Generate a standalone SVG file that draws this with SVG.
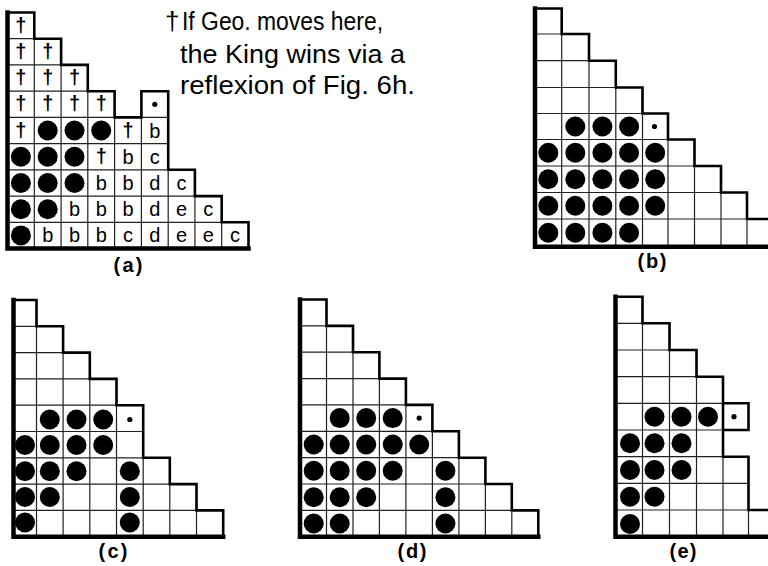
<svg xmlns="http://www.w3.org/2000/svg" width="768" height="566" viewBox="0 0 768 566">
<style>
.out{fill:none;stroke:#000;stroke-width:2.6;stroke-linecap:square;stroke-linejoin:miter}
.base{fill:none;stroke:#000;stroke-width:4.5;stroke-linecap:square}
.grid{fill:none;stroke:#222;stroke-width:1.2}
.dot{fill:#000}
.t{font-family:"Liberation Sans",Arial,sans-serif;font-size:20px;text-anchor:middle;fill:#000}
.dg{font-family:"Liberation Sans",Arial,sans-serif;font-size:20px;font-weight:bold;text-anchor:middle;fill:#000}
.lab{font-family:"Liberation Sans",Arial,sans-serif;font-size:20px;font-weight:bold;text-anchor:middle;fill:#000}
.note{font-family:"Liberation Sans",Arial,sans-serif;font-size:26px;fill:#000}
</style>
<rect width="768" height="566" fill="#fff"/>

<g id="panel-a">
<path class="grid" d="M7.5,38.7 H61.1 M7.5,64.9 H87.8 M7.5,91.2 H114.6 M7.5,117.4 H168.2 M7.5,143.6 H168.2 M7.5,169.8 H194.9 M7.5,196.1 H221.7 M7.5,222.3 H248.5 M34.3,12.5 V248.5 M61.1,38.7 V248.5 M87.8,64.9 V248.5 M114.6,91.2 V248.5 M141.4,91.2 V248.5 M168.2,169.8 V248.5 M194.9,169.8 V248.5 M221.7,196.1 V248.5"/>
<path class="out" d="M7.5,248.5 V12.5 H34.3 V38.7 H61.1 V64.9 H87.8 V91.2 H114.6 V117.4 H141.4 V91.2 H168.2 V169.8 H194.9 V196.1 H221.7 V222.3 H248.5 V248.5"/>
<path class="base" d="M7.5,12.5 V248.5 H248.5"/>
<g class="dot">
<circle cx="47.7" cy="130.5" r="10"/><circle cx="74.5" cy="130.5" r="10"/><circle cx="101.2" cy="130.5" r="10"/>
<circle cx="20.9" cy="156.7" r="10"/><circle cx="47.7" cy="156.7" r="10"/><circle cx="74.5" cy="156.7" r="10"/>
<circle cx="20.9" cy="183" r="10"/><circle cx="47.7" cy="183" r="10"/><circle cx="74.5" cy="183" r="10"/>
<circle cx="20.9" cy="209.2" r="10"/><circle cx="47.7" cy="209.2" r="10"/>
<circle cx="20.9" cy="235.4" r="10"/>
<circle cx="154.8" cy="104.3" r="2.6"/>
</g>
<g class="dg">
<text x="20.9" y="31.6">†</text>
<text x="20.9" y="57.8">†</text><text x="47.7" y="57.8">†</text>
<text x="20.9" y="84.1">†</text><text x="47.7" y="84.1">†</text><text x="74.5" y="84.1">†</text>
<text x="20.9" y="110.3">†</text><text x="47.7" y="110.3">†</text><text x="74.5" y="110.3">†</text><text x="101.2" y="110.3">†</text>
<text x="20.9" y="136.5">†</text><text x="128" y="136.5">†</text>
<text x="101.2" y="162.7">†</text>
</g>
<g class="t">
<text x="154.8" y="137.5">b</text>
<text x="128" y="163.7">b</text><text x="154.8" y="163.7">c</text>
<text x="101.2" y="190">b</text><text x="128" y="190">b</text><text x="154.8" y="190">d</text><text x="181.6" y="190">c</text>
<text x="74.5" y="216.2">b</text><text x="101.2" y="216.2">b</text><text x="128" y="216.2">b</text><text x="154.8" y="216.2">d</text><text x="181.6" y="216.2">e</text><text x="208.3" y="216.2">c</text>
<text x="47.7" y="242.4">b</text><text x="74.5" y="242.4">b</text><text x="101.2" y="242.4">b</text><text x="128" y="242.4">c</text><text x="154.8" y="242.4">d</text><text x="181.6" y="242.4">e</text><text x="208.3" y="242.4">e</text><text x="235.1" y="242.4">c</text>
</g>
<text class="lab" x="128" y="272" textLength="29" lengthAdjust="spacing">(a)</text>
</g>

<g id="note">
<text class="note" x="165" y="30">†</text>
<text class="note" x="182" y="30" textLength="201" lengthAdjust="spacingAndGlyphs">If Geo. moves here,</text>
<text class="note" x="180" y="62.5" textLength="225" lengthAdjust="spacingAndGlyphs">the King wins via a</text>
<text class="note" x="180" y="94" textLength="235" lengthAdjust="spacingAndGlyphs">reflexion of Fig. 6h.</text>
</g>

<g id="panel-b">
<path class="grid" d="M535,34 H589 M535,60.7 H615.8 M535,87.5 H642.5 M535,113.5 H668 M535,139.5 H694.5 M535,166 H721 M535,192.5 H747 M535,219 H773.5 M561.7,8.5 V246.7 M589,34 V246.7 M615.8,60.7 V246.7 M642.5,87.5 V246.7 M668,113.5 V246.7 M694.5,139.5 V246.7 M721,166 V246.7 M747,192.5 V246.7"/>
<path class="out" d="M535,246.7 V8.5 H561.7 V34 H589 V60.7 H615.8 V87.5 H642.5 V113.5 H668 V139.5 H694.5 V166 H721 V192.5 H747 V219 H772"/>
<path class="base" d="M535,8.5 V246.7 H772"/>
<g class="dot">
<circle cx="575.3" cy="126.5" r="10"/><circle cx="602.4" cy="126.5" r="10"/><circle cx="629.1" cy="126.5" r="10"/>
<circle cx="654.5" cy="126.5" r="2.6"/>
<circle cx="548.3" cy="152.7" r="10"/><circle cx="575.3" cy="152.7" r="10"/><circle cx="602.4" cy="152.7" r="10"/><circle cx="629.1" cy="152.7" r="10"/><circle cx="655.2" cy="152.7" r="10"/>
<circle cx="548.3" cy="179.2" r="10"/><circle cx="575.3" cy="179.2" r="10"/><circle cx="602.4" cy="179.2" r="10"/><circle cx="629.1" cy="179.2" r="10"/><circle cx="655.2" cy="179.2" r="10"/>
<circle cx="548.3" cy="205.7" r="10"/><circle cx="575.3" cy="205.7" r="10"/><circle cx="602.4" cy="205.7" r="10"/><circle cx="629.1" cy="205.7" r="10"/><circle cx="655.2" cy="205.7" r="10"/>
<circle cx="548.3" cy="232.8" r="10"/><circle cx="575.3" cy="232.8" r="10"/><circle cx="602.4" cy="232.8" r="10"/><circle cx="629.1" cy="232.8" r="10"/>
</g>
<text class="lab" x="652" y="268" textLength="29" lengthAdjust="spacing">(b)</text>
</g>

<g id="panel-c">
<path class="grid" d="M13.5,326.3 H63.1 M13.5,352.6 H89.8 M13.5,378.9 H116.5 M13.5,405.2 H143.2 M13.5,431.5 H143.2 M13.5,457.8 H169.8 M13.5,484.1 H196.5 M13.5,510.4 H223.2 M36.5,300 V536.7 M63.1,326.3 V536.7 M89.8,352.6 V536.7 M116.5,378.9 V536.7 M143.2,405.2 V536.7 M169.8,457.8 V536.7 M196.5,484.1 V536.7"/>
<path class="out" d="M13.5,536.7 V300 H36.5 V326.3 H63.1 V352.6 H89.8 V378.9 H116.5 V405.2 H143.2 V457.8 H169.8 V484.1 H196.5 V510.4 H223.2 V536.7"/>
<path class="base" d="M13.5,300 V536.7 H223.2"/>
<g class="dot">
<circle cx="49.8" cy="419.5" r="10"/><circle cx="76.5" cy="419.5" r="10"/><circle cx="103.2" cy="419.5" r="10"/>
<circle cx="129.8" cy="419.5" r="2.6"/>
<circle cx="25" cy="445" r="10"/><circle cx="49.8" cy="445" r="10"/><circle cx="76.5" cy="445" r="10"/><circle cx="103.2" cy="445" r="10"/>
<circle cx="25" cy="471.3" r="10"/><circle cx="49.8" cy="471.3" r="10"/><circle cx="76.5" cy="471.3" r="10"/><circle cx="129.8" cy="471.3" r="10"/>
<circle cx="25" cy="497" r="10"/><circle cx="49.8" cy="497" r="10"/><circle cx="129.8" cy="497" r="10"/>
<circle cx="25" cy="522.5" r="10"/><circle cx="129.8" cy="522.5" r="10"/>
</g>
<text class="lab" x="113" y="558" textLength="29" lengthAdjust="spacing">(c)</text>
</g>

<g id="panel-d">
<path class="grid" d="M300,325.9 H353 M300,352.2 H379.4 M300,378.6 H405.9 M300,404.9 H432.4 M300,431.3 H458.9 M300,457.7 H485.4 M300,484 H511.8 M300,510.4 H538.3 M326.5,299.5 V536.7 M353,325.9 V536.7 M379.4,352.2 V536.7 M405.9,378.6 V536.7 M432.4,404.9 V536.7 M458.9,431.3 V536.7 M485.4,457.7 V536.7 M511.8,484 V536.7"/>
<path class="out" d="M300,536.7 V299.5 H326.5 V325.9 H353 V352.2 H379.4 V378.6 H405.9 V404.9 H432.4 V431.3 H458.9 V457.7 H485.4 V484 H511.8 V510.4 H538.3 V536.7"/>
<path class="base" d="M300,299.5 V536.7 H538.3"/>
<g class="dot">
<circle cx="339.7" cy="418.1" r="10"/><circle cx="366.2" cy="418.1" r="10"/><circle cx="392.7" cy="418.1" r="10"/>
<circle cx="419.2" cy="418.1" r="2.6"/>
<circle cx="313.7" cy="444.5" r="10"/><circle cx="339.7" cy="444.5" r="10"/><circle cx="366.2" cy="444.5" r="10"/><circle cx="392.7" cy="444.5" r="10"/><circle cx="419.2" cy="444.5" r="10"/>
<circle cx="313.7" cy="470.8" r="10"/><circle cx="339.7" cy="470.8" r="10"/><circle cx="366.2" cy="470.8" r="10"/><circle cx="392.7" cy="470.8" r="10"/><circle cx="445.4" cy="470.8" r="10"/>
<circle cx="313.7" cy="497.2" r="10"/><circle cx="339.7" cy="497.2" r="10"/><circle cx="366.2" cy="497.2" r="10"/><circle cx="445.4" cy="497.2" r="10"/>
<circle cx="313.7" cy="523.5" r="10"/><circle cx="339.7" cy="523.5" r="10"/><circle cx="445.4" cy="523.5" r="10"/>
</g>
<text class="lab" x="412" y="558" textLength="29" lengthAdjust="spacing">(d)</text>
</g>

<g id="panel-e">
<path class="grid" d="M615.5,323.3 H669.5 M615.5,350 H696.5 M615.5,376.7 H723 M615.5,403.3 H723 M615.5,430 H748.5 M615.5,456.7 H748.5 M615.5,483.3 H748.5 M615.5,510 H772 M642.5,296.7 V536.7 M669.5,323.3 V536.7 M696.5,350 V536.7 M723,376.7 V536.7 M748.5,456.7 V536.7"/>
<path class="out" d="M615.5,536.7 V296.7 H642.5 V323.3 H669.5 V350 H696.5 V376.7 H723 V456.7 H748.5 V510 H772 M723,403.3 H748.5 V430 H723"/>
<path class="base" d="M615.5,296.7 V536.7 H772"/>
<g class="dot">
<circle cx="654.5" cy="416.7" r="10"/><circle cx="681.5" cy="416.7" r="10"/><circle cx="708" cy="416.7" r="10"/>
<circle cx="734" cy="416.7" r="2.6"/>
<circle cx="630" cy="443.3" r="10"/><circle cx="654.5" cy="443.3" r="10"/><circle cx="681.5" cy="443.3" r="10"/>
<circle cx="630" cy="470" r="10"/><circle cx="654.5" cy="470" r="10"/><circle cx="681.5" cy="470" r="10"/>
<circle cx="630" cy="496.7" r="10"/><circle cx="654.5" cy="496.7" r="10"/>
<circle cx="630" cy="524" r="10"/>
</g>
<text class="lab" x="683" y="558" textLength="27" lengthAdjust="spacing">(e)</text>
</g>
</svg>
